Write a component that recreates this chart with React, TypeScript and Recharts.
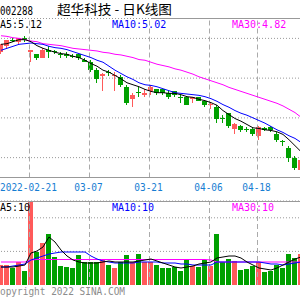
import React from 'react';
import { ComposedChart, Bar, Line, XAxis, YAxis, CartesianGrid, ReferenceLine } from 'recharts';

const dates = [
  '2022-02-14','2022-02-15','2022-02-16','2022-02-17','2022-02-18',
  '2022-02-21','2022-02-22','2022-02-23','2022-02-24','2022-02-25','2022-02-28',
  '2022-03-01','2022-03-02','2022-03-03','2022-03-04',
  '2022-03-07','2022-03-08','2022-03-09','2022-03-10','2022-03-11',
  '2022-03-14','2022-03-15','2022-03-16','2022-03-17','2022-03-18',
  '2022-03-21','2022-03-22','2022-03-23','2022-03-24','2022-03-25',
  '2022-03-28','2022-03-29','2022-03-30','2022-03-31','2022-04-01',
  '2022-04-06','2022-04-07','2022-04-08',
  '2022-04-11','2022-04-12','2022-04-13','2022-04-14','2022-04-15',
  '2022-04-18','2022-04-19','2022-04-20','2022-04-21','2022-04-22',
  '2022-04-25','2022-04-26','2022-04-27',
];
const opens = [6.30,6.39,6.48,6.44,6.50,6.29,6.26,6.21,6.33,6.31,6.27,6.26,6.24,6.26,6.18,6.14,6.02,5.93,5.99,5.94,5.91,5.77,5.58,5.69,5.65,5.70,5.73,5.73,5.68,5.70,5.62,5.61,5.59,5.61,5.55,5.49,5.46,5.30,5.37,5.13,5.17,5.13,5.13,5.02,5.14,5.16,5.06,4.95,4.85,4.70,4.51];
const highs = [6.42,6.48,6.51,6.51,6.53,6.33,6.27,6.35,6.38,6.33,6.29,6.29,6.27,6.27,6.20,6.17,6.05,5.97,6.02,5.99,5.94,5.79,5.67,5.76,5.73,5.79,5.74,5.74,5.70,5.71,5.65,5.62,5.62,5.62,5.56,5.53,5.49,5.34,5.38,5.22,5.19,5.16,5.14,5.17,5.16,5.17,5.08,4.97,4.88,4.72,4.67];
const lows = [6.27,6.36,6.44,6.42,6.45,6.14,6.18,6.20,6.21,6.27,6.21,6.21,6.20,6.18,6.14,5.99,5.83,5.71,5.93,5.71,5.77,5.50,5.46,5.62,5.61,5.64,5.65,5.65,5.59,5.61,5.53,5.49,5.52,5.55,5.47,5.44,5.23,5.22,5.14,5.06,5.08,5.09,5.02,4.97,5.10,5.09,4.93,4.87,4.64,4.51,4.49];
const closes = [6.41,6.47,6.47,6.50,6.48,6.32,6.21,6.33,6.29,6.29,6.26,6.24,6.23,6.20,6.15,6.02,5.89,5.96,5.97,5.95,5.80,5.52,5.65,5.68,5.68,5.76,5.68,5.67,5.62,5.65,5.60,5.50,5.61,5.56,5.49,5.51,5.28,5.28,5.17,5.20,5.11,5.11,5.05,5.16,5.12,5.11,4.96,4.94,4.69,4.54,4.66];
const ma5 = [6.41,6.42,6.45,6.48,6.48,6.45,6.39,6.35,6.32,6.29,6.27,6.26,6.23,6.21,6.17,6.12,6.08,6.02,5.99,5.94,5.89,5.83,5.80,5.77,5.73,5.70,5.68,5.68,5.67,5.67,5.65,5.62,5.61,5.58,5.56,5.53,5.49,5.41,5.35,5.29,5.25,5.20,5.15,5.14,5.12,5.11,5.09,5.05,4.97,4.88,4.79];
const ma10 = [6.32,6.35,6.38,6.41,6.42,6.43,6.42,6.41,6.38,6.36,6.35,6.33,6.30,6.27,6.24,6.21,6.17,6.14,6.08,6.02,5.97,5.92,5.88,5.83,5.80,5.79,5.77,5.74,5.71,5.68,5.67,5.66,5.65,5.64,5.62,5.59,5.55,5.50,5.46,5.41,5.37,5.34,5.30,5.26,5.22,5.17,5.12,5.08,5.03,4.99,4.93];
const ma30 = [6.54,6.53,6.51,6.50,6.48,6.46,6.45,6.42,6.41,6.40,6.39,6.37,6.35,6.34,6.33,6.32,6.31,6.29,6.28,6.26,6.25,6.23,6.21,6.18,6.17,6.14,6.11,6.09,6.07,6.04,6.02,5.99,5.96,5.92,5.89,5.86,5.83,5.80,5.76,5.73,5.70,5.67,5.64,5.61,5.58,5.55,5.52,5.48,5.43,5.38,5.31];
const volumes = [10,10,8.5,11.5,7,50,16.5,21,25.5,14,9.5,9,8.5,15,11.5,11.5,11.5,12.5,10,8.5,11.5,15,11.5,15.5,11.5,11.5,10,8.5,8.5,9,7,12.5,9.5,9,12.5,9.5,25.5,11.5,13,12,7.5,8,9.5,11.5,6.5,7,10,8.5,15.5,13.5,15.5];
const vma5 = [9,9,9,9.5,10,16,17,19,24,21.5,17.5,14.5,12.5,11.5,11,11,11,11.5,12,11.5,11.5,11.5,11.5,12,12.5,13,12,11,10,9,8.5,9,9.5,10.5,11,11.5,13.5,14,14.5,14.5,13.5,11.5,10,8.5,8,7.5,8.5,10,11.5,13,14];
const vma10 = [9,9,9.5,10,10.5,12.5,13.5,14.5,15.5,16,16.5,16.5,16.5,16.5,16.5,14.5,13,12,11.5,11,11,11,11,11.5,11.5,11.5,11.5,11,11,11,10.5,10.5,10,10,10,10,11.5,11.5,11.5,11.5,11.5,11.5,11.5,11.5,11,10.5,10.5,10,10.5,11,11.5];
const vma30 = [11.5,11.5,11.5,11.5,11.5,12.5,12.75,12.75,12.75,12.75,12.75,12.75,12.75,12.75,12.75,12.75,12.75,12.75,12.75,12.75,12.75,12.75,12.75,12.75,12.75,12.75,12.75,12.75,12.75,12.75,12.75,12.75,12.75,12.75,12.75,12.5,11.5,11.5,11.5,11.5,11.5,11.5,11.5,11.5,11.5,11.5,11.5,11.5,11.5,11.5,11.5];

const tickDates = ['2022-02-21','2022-03-07','2022-03-21','2022-04-06','2022-04-18'];
const priceTicks = [4.7, 5.0, 5.3, 5.6, 5.9, 6.2, 6.5];
const volTicks = [16.8, 25.2, 33.6];

const RED = '#ff5a5a';
const GREEN = '#00a000';
const MONO = 'DejaVu Sans Mono';

const rows = dates.map((d, i) => ({
  date: d,
  open: opens[i], high: highs[i], low: lows[i], close: closes[i],
  range: [lows[i], highs[i]],
  up: closes[i] >= opens[i],
  ma5: ma5[i], ma10: ma10[i], ma30: ma30[i],
  vol: volumes[i], vma5: vma5[i], vma10: vma10[i], vma30: vma30[i],
}));

const Candle = (props: any) => {
  const { x, y, width, height, payload } = props;
  const { open, close, high, low, up } = payload;
  const span = high - low;
  const px = (v: number) => (span === 0 ? y : y + ((high - v) / span) * height);
  const color = up ? RED : GREEN;
  const cx = Math.floor(x + width / 2 + 0.25);
  const top = Math.round(px(Math.max(open, close)));
  const bot = Math.round(px(Math.min(open, close)));
  const h = Math.max(1, bot - top);
  return (
    <g>
      <line x1={cx + 0.5} x2={cx + 0.5} y1={Math.round(y)} y2={Math.round(y + height)} stroke={color} strokeWidth={1} />
      <rect x={cx - 2} y={top} width={5} height={h} fill={color} />
    </g>
  );
};

const VolBar = (props: any) => {
  const { x, y, width, height, payload } = props;
  const cx = Math.floor(x + width / 2 + 0.25);
  const top = Math.round(y);
  const bot = Math.round(y + height);
  return <rect x={cx - 2} y={top} width={5} height={Math.max(0, bot - top)} fill={payload.up ? RED : GREEN} />;
};

const VLine = (p: any) => (
  <line x1={p.x1 - 1.5} x2={p.x2 - 1.5} y1={p.y1} y2={p.y2} stroke="#aaaaaa" strokeWidth={1} strokeDasharray="5 3" />
);

const DateTick = (p: any) => {
  const { x, payload } = p;
  const v: string = payload.value;
  if (!tickDates.includes(v)) return null;
  const label = v === tickDates[0] ? v : v.slice(5);
  return (
    <text x={x - 2.5} y={191} textAnchor="middle" fontFamily={MONO} fontSize={10} fill="#167dd2"
      textLength={label.length * 5.7} lengthAdjust="spacingAndGlyphs">
      {label}
    </text>
  );
};

export default function App() {
  return (
    <div style={{ position: 'absolute', left: 0, top: 0, width: 300, height: 300, overflow: 'hidden', background: '#fff' }}>
      <div style={{ position: 'absolute', left: -2, top: 0 }}>
        <ComposedChart width={306} height={200} data={rows} margin={{ top: 18.5, right: 0, bottom: 0, left: 0 }} barCategoryGap={0}>
          <CartesianGrid vertical={false} stroke="#999999" strokeDasharray="1 2" />
          <XAxis dataKey="date" interval={0} tickLine={false} axisLine={{ stroke: '#999999' }} height={22.5} tick={<DateTick />} />
          <YAxis hide domain={[4.4, 6.8]} ticks={priceTicks} allowDataOverflow />
          {tickDates.map((d) => (
            <ReferenceLine key={d} x={d} shape={VLine} />
          ))}
          <ReferenceLine segment={[{ x: dates[25], y: 6.8 }, { x: dates[50], y: 6.8 }]} stroke="#999999" ifOverflow="visible" />
          <Bar dataKey="range" shape={Candle} barSize={6} isAnimationActive={false} />
          <Line dataKey="ma30" stroke="#ff00ff" strokeWidth={1} dot={false} activeDot={false} isAnimationActive={false} />
          <Line dataKey="ma10" stroke="#0000ff" strokeWidth={1} dot={false} activeDot={false} isAnimationActive={false} />
          <Line dataKey="ma5" stroke="#000000" strokeWidth={1} dot={false} activeDot={false} isAnimationActive={false} />
        </ComposedChart>
      </div>
      <div style={{ position: 'absolute', left: -2, top: 190 }}>
        <ComposedChart width={306} height={95} data={rows} margin={{ top: 11, right: 0, bottom: 0, left: 0 }} barCategoryGap={0}>
          <CartesianGrid vertical={false} stroke="#999999" strokeDasharray="1 2" />
          <XAxis dataKey="date" hide />
          <YAxis hide domain={[0, 42]} ticks={volTicks} allowDataOverflow />
          {tickDates.map((d) => (
            <ReferenceLine key={d} x={d} shape={VLine} />
          ))}
          <Bar dataKey="vol" shape={VolBar} barSize={6} isAnimationActive={false} />
          <Line dataKey="vma30" stroke="#ff00ff" strokeWidth={1} dot={false} activeDot={false} isAnimationActive={false} />
          <Line dataKey="vma10" stroke="#0000ff" strokeWidth={1} dot={false} activeDot={false} isAnimationActive={false} />
          <Line dataKey="vma5" stroke="#000000" strokeWidth={1} dot={false} activeDot={false} isAnimationActive={false} />
          <ReferenceLine y={41.75} stroke="#999999" ifOverflow="visible" />
        </ComposedChart>
      </div>
      <svg width={300} height={300} style={{ position: 'absolute', left: 0, top: 0, pointerEvents: 'none' }}>
        <text x={0} y={15} fontFamily={MONO} fontSize={13} fill="#000" textLength={33} lengthAdjust="spacingAndGlyphs">002288</text>
        <text x={57} y={14} fontFamily="Noto Sans CJK SC" fontSize={13} fill="#000" textLength={115} lengthAdjust="spacingAndGlyphs">超华科技 - 日K线图</text>
        <text x={0} y={27.5} fontFamily={MONO} fontSize={10} fill="#000000">A5:5.12</text>
        <text x={112} y={27.5} fontFamily={MONO} fontSize={10} fill="#0000ff">MA10:5.02</text>
        <text x={232} y={27.5} fontFamily={MONO} fontSize={10} fill="#ff00ff">MA30:4.82</text>
        <text x={0} y={210.5} fontFamily={MONO} fontSize={10} fill="#000000">A5:10</text>
        <text x={112} y={210.5} fontFamily={MONO} fontSize={10} fill="#0000ff">MA10:10</text>
        <text x={232} y={210.5} fontFamily={MONO} fontSize={10} fill="#ff00ff">MA30:10</text>
        <text x={0} y={295} fontFamily={MONO} fontSize={10} fill="#8c8c8c" textLength={125} lengthAdjust="spacingAndGlyphs">opyright 2022 SINA.COM</text>
      </svg>
    </div>
  );
}
